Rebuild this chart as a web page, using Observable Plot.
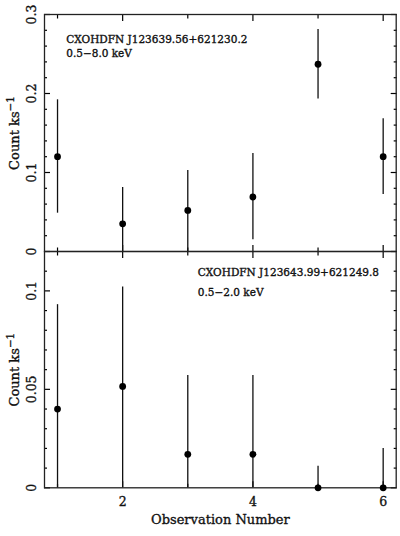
<!DOCTYPE html>
<html>
<head>
<meta charset="utf-8">
<script src="https://cdn.jsdelivr.net/npm/d3@7"></script>
<script src="https://cdn.jsdelivr.net/npm/@observablehq/plot@0.6"></script>
<style>
  html, body { margin: 0; padding: 0; background: white; }
  #chart { position: relative; width: 400px; height: 536px; overflow: hidden; }
  #chart svg { position: absolute; left: 0; }
</style>
</head>
<body>
<div id="chart"></div>
<script>
// ---- data ----
const obs = [1, 2, 3, 4, 5, 6];

// Top panel: CXOHDFN J123639.56+621230.2, 0.5-8.0 keV
const hardRate = [0.120, 0.035, 0.052, 0.069, 0.237, 0.120];
const hardLo   = [0.0485, 0.0, 0.0, 0.0148, 0.193, 0.072];
const hardHi   = [0.192, 0.081, 0.1025, 0.124, 0.281, 0.168];

// Bottom panel: CXOHDFN J123643.99+621249.8, 0.5-2.0 keV
const softRate = [0.040, 0.0515, 0.017, 0.017, 0.0, 0.0];
const softLo   = [0, 0, 0, 0, 0, 0];
const softHi   = [0.093, 0.102, 0.057, 0.057, 0.011, 0.020];

// ---- ticks & labels ----
const xMajor = [2, 4, 6];
const xMinor = [1, 3, 5];
const topYMajor = [0, 0.1, 0.2, 0.3];
const topYMinor = [0.02, 0.04, 0.06, 0.08, 0.12, 0.14, 0.16, 0.18, 0.22, 0.24, 0.26, 0.28];
const botYMajor = [0, 0.05, 0.1];
const botYMinor = [0.01, 0.02, 0.03, 0.04, 0.06, 0.07, 0.08, 0.09, 0.11];
const topLabels = ["CXOHDFN J123639.56+621230.2", "0.5\u22128.0 keV"];
const botLabels = ["CXOHDFN J123643.99+621249.8", "0.5\u22122.0 keV"];
const yTitleMain = "Count ks";
const yTitleSup = "\u22121";
const xTitle = "Observation Number";

const FONT = "DejaVu Serif";
const INK = "#111";
const xDomain = [0.8, 6.2];

function toRows(r, lo, hi) {
  return obs.map((o, i) => ({obs: o, rate: r[i], lo: lo[i], hi: hi[i]}));
}

function tickMarks(ticks, size) {
  const blank = () => "";
  const common = {tickSize: size, tickFormat: blank, label: null, strokeWidth: 1.2};
  return [
    Plot.axisY({...common, ticks, anchor: "left", dx: size}),
    Plot.axisY({...common, ticks, anchor: "right", dx: -size})
  ];
}
function xTickMarks(ticks, size) {
  const blank = () => "";
  const common = {tickSize: size, tickFormat: blank, label: null, strokeWidth: 1.2};
  return [
    Plot.axisX({...common, ticks, anchor: "bottom", dy: -size}),
    Plot.axisX({...common, ticks, anchor: "top", dy: size})
  ];
}

const txt = {fontFamily: FONT, fill: INK, stroke: INK, strokeWidth: 0.35};

function panel({rows, yDomain, yMajor, yMinor, labels, ann, height, marginTop, marginBottom, bottomAxis}) {
  const marks = [
    ...tickMarks(yMajor, 6),
    ...tickMarks(yMinor, 3),
    ...xTickMarks(xMajor, 6),
    ...xTickMarks(xMinor, 3.5),
    Plot.frame({stroke: "#222", strokeWidth: 1.3}),
    Plot.ruleX(rows, {x: "obs", y1: "lo", y2: "hi", stroke: INK, strokeWidth: 1.3}),
    Plot.dot(rows, {x: "obs", y: "rate", r: 3.4, fill: "#000", stroke: "none"}),
    Plot.text(yMajor, {...txt, y: d => d, text: d => String(d), frameAnchor: "left", dx: -13, rotate: -90,
      textAnchor: "middle", lineAnchor: "middle", fontSize: 12.5}),
    Plot.text([yTitleMain], {...txt, text: d => d, frameAnchor: "left", dx: -30, rotate: -90,
      textAnchor: "middle", lineAnchor: "middle", fontSize: 13, className: "ytitle"}),
    Plot.text([labels[0]], {...txt, text: d => d, frameAnchor: "top-left", dx: ann.dx, dy: ann.dy1,
      textAnchor: "start", lineAnchor: "bottom", fontSize: 10.5}),
    Plot.text([labels[1]], {...txt, text: d => d, frameAnchor: "top-left", dx: ann.dx, dy: ann.dy2,
      textAnchor: "start", lineAnchor: "bottom", fontSize: 10.5})
  ];
  if (bottomAxis) {
    marks.push(
      Plot.text(xMajor, {...txt, x: d => d, text: d => String(d), frameAnchor: "bottom", dy: 18,
        textAnchor: "middle", lineAnchor: "bottom", fontSize: 12.5}),
      Plot.text([xTitle], {...txt, text: d => d, frameAnchor: "bottom", dy: 36,
        textAnchor: "middle", lineAnchor: "bottom", fontSize: 13})
    );
  }
  const svg = Plot.plot({
    width: 400,
    height,
    marginTop,
    marginBottom,
    marginLeft: 44,
    marginRight: 4.3,
    style: {background: "transparent", overflow: "visible"},
    x: {domain: xDomain, axis: null},
    y: {domain: yDomain, axis: null},
    marks
  });
  // add the "−1" exponent as a raised tspan on the y-axis title
  d3.select(svg).selectAll("text").filter(function () { return this.textContent === yTitleMain; })
    .append("tspan").attr("dy", "-0.45em").attr("font-size", "0.8em").text(yTitleSup);
  return svg;
}

const topPanel = panel({
  rows: toRows(hardRate, hardLo, hardHi),
  yDomain: [0, 0.3], yMajor: topYMajor, yMinor: topYMinor,
  labels: topLabels, ann: {dx: 21.7, dy1: 28.7, dy2: 42.7},
  height: 262, marginTop: 14, marginBottom: 11, bottomAxis: false
});
const botPanel = panel({
  rows: toRows(softRate, softLo, softHi),
  yDomain: [0, 0.12], yMajor: botYMajor, yMinor: botYMinor,
  labels: botLabels, ann: {dx: 153.3, dy1: 24, dy2: 44},
  height: 295, marginTop: 10, marginBottom: 48.7, bottomAxis: true
});
topPanel.style.top = "0px";
botPanel.style.top = "241px";
const chart = document.getElementById("chart");
chart.appendChild(topPanel);
chart.appendChild(botPanel);
</script>
</body>
</html>
